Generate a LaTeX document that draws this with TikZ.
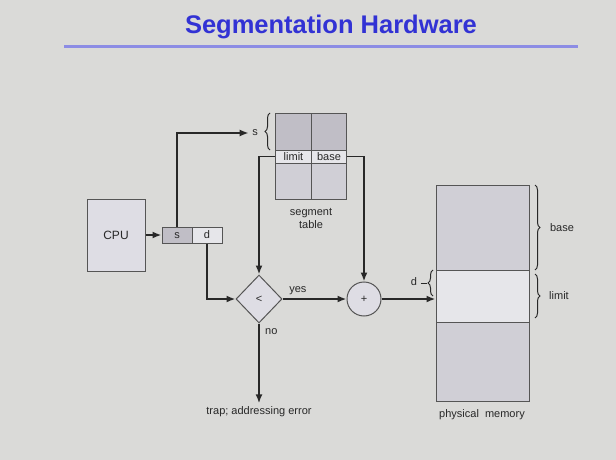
\documentclass[tikz,border=0pt]{standalone}
\usepackage{fontspec}
\setmainfont{Liberation Sans}
\usetikzlibrary{arrows.meta,positioning,shapes.geometric,decorations.pathreplacing}
\definecolor{slidebg}{RGB}{218,218,216}
\definecolor{titleblue}{RGB}{50,50,212}
\definecolor{ruleblue}{RGB}{140,140,228}
\definecolor{inkgray}{RGB}{40,40,40}
\definecolor{edgegray}{RGB}{85,85,85}
\definecolor{celldark}{RGB}{192,190,198}
\definecolor{cellmid}{RGB}{208,207,214}
\definecolor{celllight}{RGB}{230,230,234}
\definecolor{cpufill}{RGB}{222,221,228}
\begin{document}
\begin{tikzpicture}[x=1pt, y=-1pt, >={Latex[length=9pt,width=7pt]},
  every node/.style={text=inkgray, font=\fontsize{11}{13}\selectfont},
  cell/.style={draw=edgegray, line width=1pt, inner sep=0pt},
  celltext/.style={text height=8pt, text depth=1pt},
  wire/.style={draw=inkgray, line width=1.8pt},
  curly/.style={draw=inkgray, line width=1pt, decorate, decoration={brace, amplitude=5pt}}]
\useasboundingbox[fill=slidebg] (0,0) rectangle (616,460);

% title
\node[text=titleblue, font=\fontsize{25.5}{28}\selectfont\bfseries] (title) at (331,27) {Segmentation Hardware};
\draw[ruleblue, line width=3pt] (64,47) -- (578,47);

% cpu and logical address
\node[cell, fill=cpufill, minimum width=58pt, minimum height=72pt,
      font=\fontsize{12}{14}\selectfont] (cpu) at (116,235) {CPU};
\node[cell, celltext, fill=celldark, minimum width=30pt, minimum height=16pt] (s) at (177,235) {s};
\node[cell, celltext, fill=celllight, minimum width=30pt, minimum height=16pt] (d) at (207,235) {d};

% segment table
\node[cell, fill=celldark, minimum width=35.5pt, minimum height=37pt] (t11) at (293.5,131.5) {};
\node[cell, fill=celldark, minimum width=35.5pt, minimum height=37pt] (t12) at (329,131.5) {};
\node[cell, celltext, fill=celllight, minimum width=35.5pt, minimum height=13pt] (limit) at (293.5,156.5) {limit};
\node[cell, celltext, fill=celllight, minimum width=35.5pt, minimum height=13pt] (base) at (329,156.5) {base};
\node[cell, fill=cellmid, minimum width=35.5pt, minimum height=36pt] (t31) at (293.5,181) {};
\node[cell, fill=cellmid, minimum width=35.5pt, minimum height=36pt] (t32) at (329,181) {};
\node[align=center] (segtab) at (311,218) {segment\\table};
\node (sidx) at (255,133) {s};
\draw[curly] (270,150) -- (270,113);

% compare and add
\node[cell, diamond, fill=cpufill, minimum width=46pt, minimum height=48pt] (cmp) at (259,299) {<};
\node[cell, circle, fill=cpufill, minimum size=34pt] (plus) at (364,299) {+};
\node (trap) at (259,412) {trap; addressing error};

% physical memory
\node[cell, fill=cellmid, minimum width=93pt, minimum height=85pt] (mem1) at (482.5,227.5) {};
\node[cell, fill=celllight, minimum width=93pt, minimum height=52pt] (mem2) at (482.5,296) {};
\node[cell, fill=cellmid, minimum width=93pt, minimum height=79pt] (mem3) at (482.5,361.5) {};
\node (memlbl) at (482,415) {physical\ \ memory};
\draw[curly] (535,185) -- (535,270);
\node (baselbl) at (562,228) {base};
\draw[curly] (535,274) -- (535,318);
\node (limitlbl) at (559,296) {limit};
\draw[curly] (433,296) -- (433,270);
\node (dlbl) at (414,282) {d};
\coordinate (dtip) at (427,283);
\draw[inkgray, line width=1pt] (dlbl.east |- dtip) -- (dtip);

% connectors
\draw[wire, ->] (cpu) -- (s);
\draw[wire, ->] (s.north) |- (sidx.west);
\draw[wire, ->] (limit.west) -| (cmp.north);
\draw[wire, ->] (base.east) -| (plus.north);
\draw[wire, ->] (d.south) |- (cmp.west);
\draw[wire, ->] (cmp.east) -- node[pos=0.24, above] {yes} (plus.west);
\draw[wire, ->] (cmp.south) -- node[pos=0.1, right, xshift=2pt] {no} (trap.north);
\draw[wire, ->] (plus.east) -- (plus -| mem2.west);
\end{tikzpicture}
\end{document}
